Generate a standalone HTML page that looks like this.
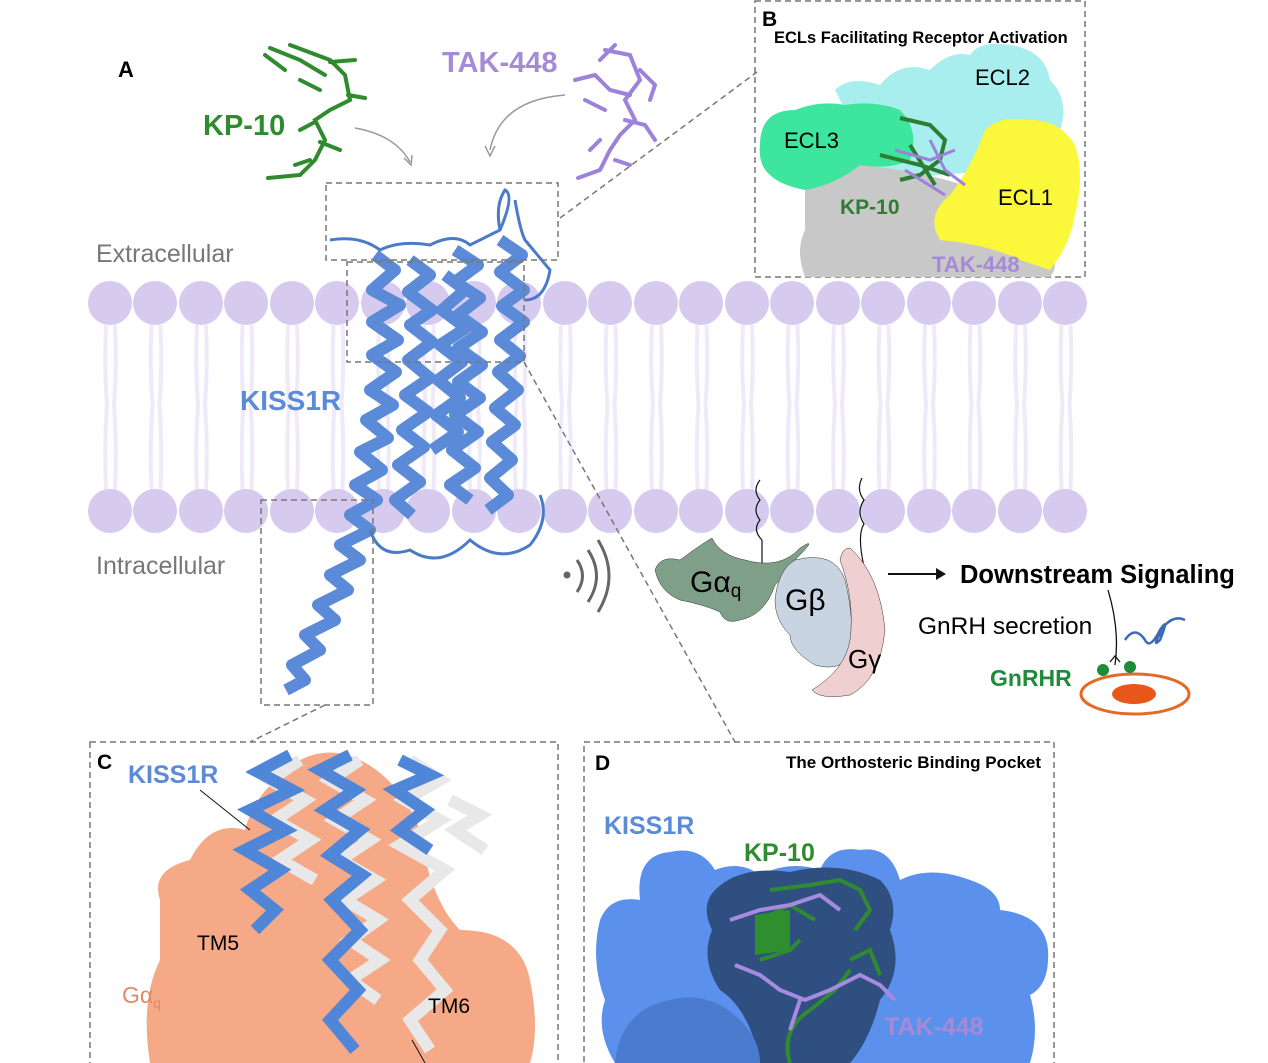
<!DOCTYPE html>
<html><head><meta charset="utf-8"><style>
html,body{margin:0;padding:0;background:#fff;}
svg{display:block;}
text{font-family:"Liberation Sans",Arial,sans-serif;}
</style></head><body>
<svg width="1268" height="1063" viewBox="0 0 1268 1063" xmlns="http://www.w3.org/2000/svg">
<rect width="1268" height="1063" fill="#fff"/>
<defs>
<pattern id="tails" x="100" y="0" width="45.5" height="1063" patternUnits="userSpaceOnUse">
<path d="M6 325 Q4 365 7 405 Q4 445 6 490 M15 325 Q17 365 14 405 Q17 445 15 490" stroke="#efe9fa" stroke-width="4" fill="none"/>
</pattern>
</defs>
<rect x="100" y="325" width="985" height="165" fill="url(#tails)"/>
<g fill="#d6cbef">
<circle cx="110" cy="303" r="22"/><circle cx="155" cy="303" r="22"/><circle cx="201" cy="303" r="22"/><circle cx="246" cy="303" r="22"/><circle cx="292" cy="303" r="22"/><circle cx="337" cy="303" r="22"/><circle cx="383" cy="303" r="22"/><circle cx="428" cy="303" r="22"/><circle cx="474" cy="303" r="22"/><circle cx="519" cy="303" r="22"/><circle cx="565" cy="303" r="22"/><circle cx="610" cy="303" r="22"/><circle cx="656" cy="303" r="22"/><circle cx="701" cy="303" r="22"/><circle cx="747" cy="303" r="22"/><circle cx="792" cy="303" r="22"/><circle cx="838" cy="303" r="22"/><circle cx="883" cy="303" r="22"/><circle cx="929" cy="303" r="22"/><circle cx="974" cy="303" r="22"/><circle cx="1020" cy="303" r="22"/><circle cx="1065" cy="303" r="22"/>
<circle cx="110" cy="511" r="22"/><circle cx="155" cy="511" r="22"/><circle cx="201" cy="511" r="22"/><circle cx="246" cy="511" r="22"/><circle cx="292" cy="511" r="22"/><circle cx="337" cy="511" r="22"/><circle cx="383" cy="511" r="22"/><circle cx="428" cy="511" r="22"/><circle cx="474" cy="511" r="22"/><circle cx="519" cy="511" r="22"/><circle cx="565" cy="511" r="22"/><circle cx="610" cy="511" r="22"/><circle cx="656" cy="511" r="22"/><circle cx="701" cy="511" r="22"/><circle cx="747" cy="511" r="22"/><circle cx="792" cy="511" r="22"/><circle cx="838" cy="511" r="22"/><circle cx="883" cy="511" r="22"/><circle cx="929" cy="511" r="22"/><circle cx="974" cy="511" r="22"/><circle cx="1020" cy="511" r="22"/><circle cx="1065" cy="511" r="22"/>
</g>

<text x="118" y="77" font-size="22" font-weight="bold">A</text>
<text x="96" y="262" font-size="25" fill="#777">Extracellular</text>
<text x="96" y="574" font-size="25" fill="#777">Intracellular</text>
<text x="203" y="135" font-size="29" font-weight="bold" fill="#2e8b2e">KP-10</text>
<text x="442" y="72" font-size="29" font-weight="bold" fill="#a58ad8">TAK-448</text>
<text x="240" y="410" font-size="28" font-weight="bold" fill="#5b8bd8">KISS1R</text>

<g stroke="#2e8b2e" stroke-width="4" fill="none" stroke-linecap="round">
<path d="M290 45 L330 60 L345 75 L350 100 L330 110 L315 120 L325 140 L315 160 L300 175 L268 178"/>
<path d="M270 48 L300 60 L325 75 M330 62 L355 60 M348 95 L365 98 M315 122 L300 130 M320 142 L340 150 M310 160 L295 165 M265 55 L285 70 M300 80 L320 90"/>
</g>
<g stroke="#9d82dc" stroke-width="4" fill="none" stroke-linecap="round">
<path d="M605 50 L630 55 L640 80 L625 100 L635 120 L620 135 L610 150 L600 170 L578 178"/>
<path d="M575 80 L595 75 L610 90 L630 95 M640 70 L655 85 L650 100 M625 120 L645 125 L655 140 M600 140 L590 150 M615 160 L630 165 M585 100 L605 110 M615 45 L600 60"/>
</g>
<path d="M355 128 Q395 135 410 162" stroke="#999" stroke-width="1.5" fill="none"/>
<path d="M404 158 L411 165 L412 155" stroke="#999" stroke-width="1.5" fill="none"/>
<path d="M565 95 Q500 100 490 150" stroke="#999" stroke-width="1.5" fill="none"/>
<path d="M485 146 L490 156 L495 146" stroke="#999" stroke-width="1.5" fill="none"/>

<g stroke="#5b8bd8" stroke-width="12" fill="none" stroke-linejoin="round">
<path d="M375 255 L395 270 L372 290 L400 305 L372 322 L398 340 L372 355 L396 372 L370 390 L393 405 L366 420 L388 438 L360 452 L382 470 L355 485 L377 500 L350 515 L370 530 L340 545 L360 560 L330 575 L348 590 L318 605 L335 620 L305 635 L320 650 L292 665 L305 680 L286 690"/>
<path d="M410 260 L430 275 L408 292 L432 310 L410 325 L432 342 L408 360 L430 378 L405 395 L428 412 L402 430 L424 447 L398 465 L420 482 L395 500 L412 515"/>
<path d="M455 250 L478 265 L455 282 L480 298 L458 315 L482 332 L458 348 L482 365 L458 382 L480 398 L455 415 L478 432 L452 450 L475 468 L450 485 L470 500"/>
<path d="M500 240 L522 255 L500 272 L524 290 L502 306 L524 322 L500 340 L520 356 L498 372 L518 390 L495 408 L515 425 L492 442 L512 460 L490 478 L508 495 L488 510"/>
<path d="M445 275 L465 290 L442 310 L466 328 L440 345 L462 362 L438 380 L460 398 L436 415 L458 432 L432 450"/>
</g>
<g stroke="#4a7ac8" stroke-width="3" fill="none">
<path d="M330 240 Q360 235 380 250 Q400 240 430 245 Q455 232 470 245 L500 230 Q515 195 505 190 Q495 205 500 230 M515 200 Q520 230 525 240 L550 270 Q545 300 525 300"/>
<path d="M370 530 Q380 560 410 550 Q440 570 470 540 Q500 565 530 545 Q550 520 540 495"/>
</g>

<g stroke="#777" stroke-width="1.5" fill="none" stroke-dasharray="6,4">
<rect x="326" y="183" width="232" height="77"/>
<rect x="347" y="262" width="177" height="100"/>
<rect x="261" y="500" width="112" height="205"/>
<rect x="755" y="1" width="330" height="276"/>
<rect x="90" y="742" width="468" height="330"/>
<rect x="584" y="742" width="470" height="330"/>
<path d="M560 218 L757 72"/>
<path d="M524 362 L735 742"/>
<path d="M325 705 L250 742"/>
</g>

<circle cx="567" cy="575" r="3.5" fill="#666"/>
<path d="M577 560 Q588 576 577 592" stroke="#666" stroke-width="3" fill="none"/>
<path d="M588 550 Q605 576 588 602" stroke="#666" stroke-width="3" fill="none"/>
<path d="M598 540 Q620 576 598 612" stroke="#666" stroke-width="3" fill="none"/>

<path d="M760 480 Q752 490 760 500 Q752 510 760 520 Q752 530 762 540" stroke="#111" stroke-width="1.2" fill="none"/>
<path d="M862 478 Q856 490 864 500 Q856 512 864 524 Q856 536 866 575" stroke="#111" stroke-width="1.2" fill="none"/>
<path d="M762 540 L762 565" stroke="#111" stroke-width="1.2"/>
<path d="M655 570 Q660 555 680 560 Q700 545 712 538 Q720 555 745 560 Q780 570 800 548 Q820 535 795 560 Q785 575 775 585 Q765 615 740 620 Q725 625 720 612 Q705 605 680 600 Q660 592 655 570Z" fill="#7f9f89" stroke="#333" stroke-width="0.5"/>
<path d="M795 560 Q835 550 845 580 Q855 620 850 655 Q840 672 815 665 Q790 650 790 635 Q775 620 775 600 Q778 570 795 560Z" fill="#c8d4e2" stroke="#333" stroke-width="0.5"/>
<path d="M850 548 Q880 575 885 630 Q880 680 850 695 Q820 700 812 690 Q845 670 850 640 Q855 600 840 560 Q842 548 850 548Z" fill="#efcfcf" stroke="#333" stroke-width="0.5"/>
<text x="690" y="592" font-size="30">Gα<tspan font-size="19" dy="5">q</tspan></text>
<text x="785" y="610" font-size="30">Gβ</text>
<text x="848" y="668" font-size="26">Gγ</text>
<path d="M888 574 L940 574" stroke="#111" stroke-width="2"/>
<path d="M936 568 L946 574 L936 580Z" fill="#111"/>
<text x="960" y="583" font-size="25.5" font-weight="bold">Downstream Signaling</text>
<text x="918" y="634" font-size="24.5">GnRH secretion</text>
<path d="M1108 590 Q1120 630 1115 665 M1110 662 L1115 656 L1120 662" stroke="#111" stroke-width="1.3" fill="none"/>
<path d="M1125 640 Q1135 625 1145 640 Q1150 650 1160 630 Q1170 615 1160 640 Q1150 650 1165 625 Q1175 615 1185 620" stroke="#3c6bb5" stroke-width="2.5" fill="none"/>
<text x="990" y="686" font-size="23" font-weight="bold" fill="#1e8b3a">GnRHR</text>
<ellipse cx="1135" cy="694" rx="54" ry="20" fill="none" stroke="#e56a25" stroke-width="3"/>
<ellipse cx="1134" cy="694" rx="22" ry="10" fill="#e8561a"/>
<circle cx="1103" cy="670" r="6" fill="#1e8b3a"/><circle cx="1130" cy="667" r="6" fill="#1e8b3a"/>

<text x="762" y="26" font-size="21" font-weight="bold">B</text>
<text x="774" y="43" font-size="16.5" font-weight="bold">ECLs Facilitating Receptor Activation</text>
<path d="M835 90 Q850 75 880 85 Q900 60 930 70 Q950 50 970 55 Q980 40 1010 45 Q1045 50 1050 80 Q1070 100 1060 130 Q1050 160 1000 170 L880 180Z" fill="#a8eeee"/>
<path d="M805 190 Q800 160 830 160 L900 170 Q960 180 1000 200 Q1030 220 1050 250 Q1060 265 1050 277 L805 277 Q795 250 805 230Z" fill="#c8c8c8"/>
<path d="M760 145 Q760 110 795 110 Q820 100 845 105 Q875 100 900 110 Q920 130 910 160 Q890 170 860 165 Q835 185 805 190 Q780 185 770 175 Q758 165 760 145Z" fill="#3de59e"/>
<path d="M985 130 Q1000 115 1030 120 Q1060 120 1075 145 Q1085 175 1075 215 Q1070 245 1050 270 L1020 260 Q990 245 940 240 Q925 215 950 195 Q970 170 985 130Z" fill="#fbf73a"/>
<g stroke="#2e7d32" stroke-width="4" fill="none">
<path d="M900 118 L930 125 L945 140 L940 160 L920 175 L900 180 M880 155 L920 165 L950 175 M910 145 L935 185"/>
</g>
<g stroke="#9d82dc" stroke-width="3" fill="none">
<path d="M895 150 L930 160 L955 150 M930 140 L945 170 L965 185 M905 170 L945 195"/>
</g>
<text x="784" y="148" font-size="22">ECL3</text>
<text x="975" y="85" font-size="22">ECL2</text>
<text x="998" y="205" font-size="22">ECL1</text>
<text x="840" y="214" font-size="21" font-weight="bold" fill="#2e7d32">KP-10</text>
<text x="932" y="272" font-size="22" font-weight="bold" fill="#a58ad8">TAK-448</text>

<path d="M160 900 Q150 870 190 860 Q210 820 245 830 Q255 790 300 760 Q330 745 360 760 Q400 780 420 830 Q430 900 460 930 Q520 930 530 980 Q540 1030 530 1063 L150 1063 Q140 1000 160 960 Z" fill="#f6a987"/>
<g stroke="#e8e8e8" stroke-width="12" fill="none">
<path d="M360 760 L330 780 L365 800 L335 820 L370 840 L340 860 L375 880 L345 900 L378 920 L350 940 L380 960 L350 980 L378 1000"/>
<path d="M300 760 L270 780 L305 800 L275 820 L310 840 L280 860 L315 880"/>
<path d="M410 760 L440 780 L405 800 L440 820 L400 845 L445 870 L410 900 L440 930 L420 960 L445 990 L410 1020 L430 1050"/>
<path d="M450 800 L480 815 L455 830 L485 850"/>
</g>
<g stroke="#4f86d8" stroke-width="12" fill="none">
<path d="M290 755 L258 772 L292 790 L250 810 L285 830 L245 850 L280 870 L250 890 L275 910 L255 930"/>
<path d="M350 755 L320 770 L355 790 L325 810 L360 830 L330 855 L362 875 L332 900 L360 930 L330 960 L358 990 L330 1020 L355 1050"/>
<path d="M400 760 L430 775 L395 790 L425 810 L400 830 L430 850"/>
</g>
<text x="97" y="769" font-size="21" font-weight="bold">C</text>
<text x="128" y="783" font-size="25" font-weight="bold" fill="#5b8bd8">KISS1R</text>
<path d="M200 790 L250 830" stroke="#111" stroke-width="1"/>
<text x="197" y="950" font-size="21">TM5</text>
<text x="428" y="1013" font-size="21">TM6</text>
<text x="122" y="1003" font-size="23" fill="#e08a66">Gα<tspan font-size="14" dy="5">q</tspan></text>
<path d="M412 1040 L425 1063" stroke="#111" stroke-width="1"/>

<path d="M600 920 Q610 895 640 900 Q635 855 670 852 Q700 845 715 870 Q740 860 760 875 Q790 860 820 870 Q830 845 860 850 Q890 845 900 880 Q930 865 970 880 Q1000 890 1000 910 Q1045 915 1048 950 Q1050 985 1030 995 Q1040 1030 1030 1063 L615 1063 Q595 1030 605 1000 Q590 960 600 920Z" fill="#5b90ec"/>
<path d="M715 890 Q740 865 790 872 Q840 860 880 880 Q900 900 890 930 Q905 970 880 1000 Q870 1040 850 1063 L760 1063 Q750 1010 720 990 Q700 960 712 930 Q700 905 715 890Z" fill="#2f4f80"/>
<path d="M615 1063 Q620 1010 670 1000 Q710 990 740 1020 Q760 1040 760 1063Z" fill="#4b7bcf"/>
<path d="M870 1063 Q880 1000 930 970 Q980 960 1010 1000 L1030 1063Z" fill="#5b90ec"/>
<g stroke="#2e8b2e" stroke-width="4" fill="none">
<path d="M770 890 L810 885 L840 880 L860 890 L870 910 L855 930 M760 920 L790 905 L815 920 M760 960 L790 950 L800 940 M850 960 L870 950 L880 975 M790 1063 Q780 1030 810 1010 L835 990 L850 970"/>
</g>
<path d="M755 915 L790 910 L790 950 L755 955Z" fill="#2f8f2f"/>
<g stroke="#a58ae0" stroke-width="4" fill="none">
<path d="M730 920 L760 910 L790 905 L820 895 L840 910 M735 965 L760 975 L780 990 L805 1000 L830 990 L860 975 L880 985 L895 1000 M800 1000 L790 1030"/>
</g>
<text x="595" y="770" font-size="21" font-weight="bold">D</text>
<text x="786" y="768" font-size="17" font-weight="bold">The Orthosteric Binding Pocket</text>
<text x="604" y="834" font-size="25" font-weight="bold" fill="#5b8bd8">KISS1R</text>
<text x="744" y="861" font-size="25" font-weight="bold" fill="#2e8b2e">KP-10</text>
<text x="884" y="1035" font-size="25" font-weight="bold" fill="#a58ad8">TAK-448</text>
</svg>
</body></html>
